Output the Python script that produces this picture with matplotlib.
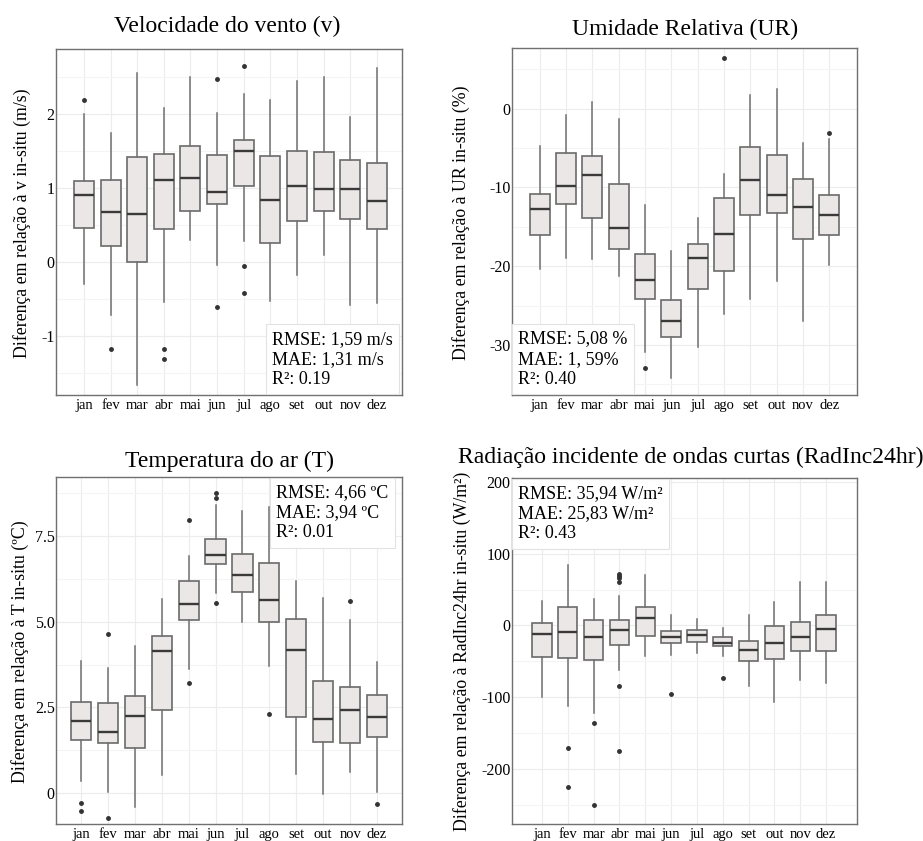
import numpy as np
import matplotlib.pyplot as plt
from matplotlib.ticker import FixedLocator

plt.rcParams['font.family'] = ['Liberation Serif', 'DejaVu Serif']

meses = ["jan", "fev", "mar", "abr", "mai", "jun", "jul", "ago", "set", "out", "nov", "dez"]

# Velocidade do vento (v) - diferença em m/s
v_lo  = [-0.30, -0.71, -1.65, -0.54, 0.30, -0.04, 0.29, -0.52, -0.18, 0.09, -0.58, -0.55]
v_q1  = [0.46, 0.22, 0.00, 0.45, 0.69, 0.78, 1.02, 0.26, 0.56, 0.69, 0.58, 0.44]
v_med = [0.90, 0.68, 0.65, 1.10, 1.13, 0.94, 1.50, 0.83, 1.02, 0.98, 0.99, 0.82]
v_q3  = [1.09, 1.11, 1.41, 1.46, 1.56, 1.44, 1.65, 1.43, 1.49, 1.48, 1.37, 1.33]
v_hi  = [2.00, 1.74, 2.55, 2.08, 2.50, 2.01, 2.26, 2.19, 2.44, 2.50, 1.95, 2.61]
v_out = [[2.18], [-1.17], [], [-1.17, -1.31], [], [2.46, -0.61], [2.64, -0.05, -0.41], [], [], [], [], []]

# Umidade Relativa (UR) - diferença em %
ur_lo  = [-20.3, -18.9, -19.1, -21.2, -30.9, -34.2, -30.2, -26.1, -24.2, -21.9, -27.0, -19.8]
ur_q1  = [-16.1, -12.1, -13.9, -17.8, -24.2, -29.0, -22.9, -20.6, -13.5, -13.3, -16.6, -16.1]
ur_med = [-12.7, -9.8, -8.4, -15.1, -21.7, -26.9, -18.9, -15.9, -9.0, -10.9, -12.5, -13.5]
ur_q3  = [-10.8, -5.6, -6.0, -9.5, -18.4, -24.3, -17.2, -11.4, -4.9, -5.9, -8.9, -11.0]
ur_hi  = [-4.7, -0.8, 0.9, -1.3, -12.2, -18.1, -13.9, -8.3, 1.7, 2.5, -4.4, -3.9]
ur_out = [[], [], [], [], [-32.9], [], [], [6.4], [], [], [], [-3.1]]

# Temperatura do ar (T) - diferença em ºC
t_lo  = [0.36, 0.02, -0.39, 0.52, 3.63, 5.84, 4.99, 3.70, 0.56, -0.02, 0.63, 0.03]
t_q1  = [1.54, 1.46, 1.31, 2.43, 5.04, 6.68, 5.87, 5.00, 2.21, 1.48, 1.46, 1.63]
t_med = [2.11, 1.78, 2.24, 4.15, 5.52, 6.96, 6.36, 5.64, 4.17, 2.17, 2.42, 2.23]
t_q3  = [2.67, 2.64, 2.82, 4.59, 6.18, 7.41, 6.98, 6.71, 5.08, 3.26, 3.11, 2.85]
t_hi  = [3.84, 3.65, 4.30, 5.66, 6.91, 8.40, 8.24, 8.34, 6.18, 5.68, 5.06, 3.82]
t_out = [[-0.29, -0.51], [4.64, -0.73], [], [], [7.98, 3.21], [8.75, 8.60, 5.55], [], [2.31], [], [], [5.61], [-0.32]]

# Radiação incidente de ondas curtas (RadInc24hr) - diferença em W/m²
r_lo  = [-100, -113, -122, -62, -43, -41, -39, -42, -85, -107, -76, -80]
r_q1  = [-44, -46, -48, -27, -15, -25, -23, -29, -49, -47, -35, -36]
r_med = [-12, -9, -16, -7, 10, -16, -13, -24, -34, -25, -16, -5]
r_q3  = [4, 26, 8, 7, 26, -8, -6, -16, -22, -1, 5, 15]
r_hi  = [34, 84, 37, 41, 70, 14, 9, -4, 14, 32, 60, 60]
r_out = [[], [-171, -225], [-136, -251], [72, 69, 66, 61, -84, -175], [], [-96], [], [-74], [], [], [], []]

paineis = [
    dict(rect=[0.0607, 0.5303, 0.3749, 0.4114], dados=(v_lo, v_q1, v_med, v_q3, v_hi, v_out),
         titulo="Velocidade do vento (v)", tit_xy=(0.246, 0.968),
         ylabel="Diferença em relação à v in-situ (m/s)", ylab_xy=(0.024, 0.735),
         ylim=(-1.79, 2.87), xlim=(-0.05, 12.95),
         major=[-1, 0, 1, 2], labels=["-1", "0", "1", "2"], minor=[-1.5, -0.5, 0.5, 1.5, 2.5],
         texto="RMSE: 1,59 m/s\nMAE: 1,31 m/s\nR²: 0.19", txt_xy=(0.625, 0.02), va='bottom'),
    dict(rect=[0.5547, 0.5303, 0.3738, 0.4126], dados=(ur_lo, ur_q1, ur_med, ur_q3, ur_hi, ur_out),
         titulo="Umidade Relativa (UR)", tit_xy=(0.742, 0.965),
         ylabel="Diferença em relação à UR in-situ (%)", ylab_xy=(0.500, 0.735),
         ylim=(-36.36, 7.71), xlim=(-0.05, 13.05),
         major=[-30, -20, -10, 0], labels=["-30", "-20", "-10", "0"], minor=[-35, -25, -15, -5, 5],
         texto="RMSE: 5,08 %\nMAE: 1, 59%\nR²: 0.40", txt_xy=(0.017, 0.02), va='bottom'),
    dict(rect=[0.0607, 0.0202, 0.3749, 0.4126], dados=(t_lo, t_q1, t_med, t_q3, t_hi, t_out),
         titulo="Temperatura do ar (T)", tit_xy=(0.249, 0.451),
         ylabel="Diferença em relação à T in-situ (ºC)", ylab_xy=(0.022, 0.225),
         ylim=(-0.90, 9.22), xlim=(0.07, 12.93),
         major=[0, 2.5, 5.0, 7.5], labels=["0", "2.5", "5.0", "7.5"], minor=[1.25, 3.75, 6.25, 8.75],
         texto="RMSE: 4,66 ºC\nMAE: 3,94 ºC\nR²: 0.01", txt_xy=(0.636, 0.98), va='top'),
    dict(rect=[0.5547, 0.0202, 0.3738, 0.4114], dados=(r_lo, r_q1, r_med, r_q3, r_hi, r_out),
         titulo="Radiação incidente de ondas curtas (RadInc24hr)", tit_xy=(0.748, 0.456),
         ylabel="Diferença em relação à RadInc24hr in-situ (W/m²)", ylab_xy=(0.501, 0.225),
         ylim=(-277, 205.6), xlim=(-0.16, 13.2),
         major=[-200, -100, 0, 100, 200], labels=["-200", "-100", "0", "100", "200"],
         minor=[-250, -150, -50, 50, 150],
         texto="RMSE: 35,94 W/m²\nMAE: 25,83 W/m²\nR²: 0.43", txt_xy=(0.017, 0.98), va='top'),
]

fig = plt.figure(figsize=(9.23, 8.41), dpi=100)

for p in paineis:
    ax = fig.add_axes(p['rect'])
    lo, q1, med, q3, hi, out = p['dados']
    stats = []
    for i in range(len(meses)):
        stats.append(dict(whislo=lo[i], q1=q1[i], med=med[i], q3=q3[i], whishi=hi[i], fliers=out[i]))
    ax.bxp(stats, positions=np.arange(1, 13), widths=0.75, patch_artist=True, showcaps=False,
           boxprops=dict(facecolor='#ebe7e7', edgecolor='#6b6b6b', linewidth=1.2),
           whiskerprops=dict(color='#707070', linewidth=1.1),
           medianprops=dict(color='#3a3a3a', linewidth=1.7),
           flierprops=dict(marker='o', markersize=2.5, markerfacecolor='#333333',
                           markeredgecolor='#333333', linestyle='none'),
           zorder=3)
    ax.set_xlim(p['xlim'])
    ax.set_ylim(p['ylim'])
    ax.set_xticks(np.arange(1, 13))
    ax.set_xticklabels(meses, fontsize=10.5)
    ax.set_yticks(p['major'])
    ax.set_yticklabels(p['labels'], fontsize=11.5)
    ax.yaxis.set_minor_locator(FixedLocator(p['minor']))
    ax.tick_params(axis='both', which='both', length=0)
    ax.tick_params(axis='x', pad=3)
    ax.tick_params(axis='y', pad=1)
    ax.grid(True, which='major', color='#ececec', linewidth=0.8, zorder=0)
    ax.grid(True, which='minor', axis='y', color='#f4f4f4', linewidth=0.8, zorder=0)
    ax.set_axisbelow(True)
    for s in ax.spines.values():
        s.set_color('#707070')
        s.set_linewidth(1.0)
    fig.text(p['tit_xy'][0], p['tit_xy'][1], p['titulo'], ha='center', va='center', fontsize=17)
    fig.text(p['ylab_xy'][0], p['ylab_xy'][1], p['ylabel'], ha='center', va='center',
             rotation=90, fontsize=12.8)
    ax.text(p['txt_xy'][0], p['txt_xy'][1], p['texto'], transform=ax.transAxes,
            ha='left', va=p['va'], fontsize=13, linespacing=1.25, zorder=5,
            bbox=dict(boxstyle='square,pad=0.35', facecolor='white', edgecolor='#e2e2e2', linewidth=0.8))

fig.savefig("out.png", dpi=100)
